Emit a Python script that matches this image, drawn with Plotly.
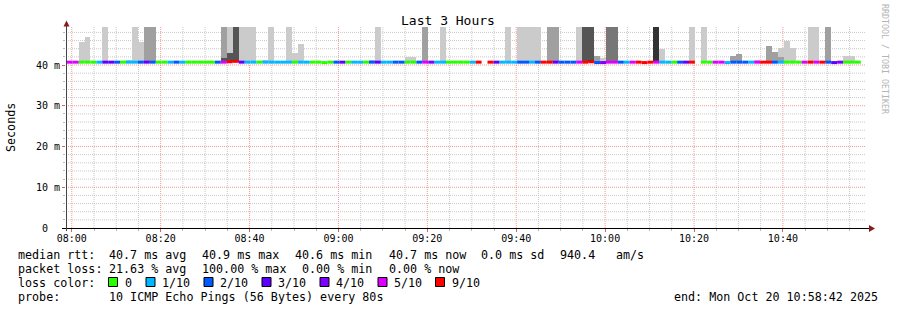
import plotly.graph_objects as go

# ---------------- data ----------------
# time axis: minutes after 08:00; RRD step = 80 s
first_step_min = -1.13
step_min = 80 / 60
x_tick_labels = ["08:00", "08:20", "08:40", "09:00", "09:20", "09:40", "10:00", "10:20", "10:40"]
x_tick_minutes = [0, 20, 40, 60, 80, 100, 120, 140, 160]
y_tick_values = [0, 10, 20, 30, 40]
y_tick_labels = ["0\u00a0\u00a0", "10 m", "20 m", "30 m", "40 m"]

# loss per step (lost pings out of 10), 10 = everything lost (no median)
loss = [5, 5, 0, 0, 0, 1, 3, 3, 2, 0, 1, 1, 2, 3, 2, 0, 0, 1, 2, 1,
        0, 0, 0, 0, 0, 2, 5, 9, 9, 3, 1, 1, 0, 1, 1, 1, 1, 1, 0, 1,
        1, 0, 0, 0, 0, 2, 3, 0, 1, 1, 0, 2, 3, 1, 1, 2, 2, 0, 0, 2,
        5, 4, 1, 1, 0, 0, 0, 0, 1, 9, 10, 9, 3, 1, 1, 1, 2, 2, 1, 2,
        9, 9, 3, 2, 2, 2, 5, 9, 9, 2, 4, 5, 5, 2, 1, 5, 9, 9, 9, 5,
        1, 1, 0, 2, 3, 9, 10, 0, 0, 5, 5, 1, 2, 2, 2, 1, 5, 9, 9, 2,
        1, 0, 0, 0, 5, 9, 5, 9, 2, 3, 4, 0, 0, 0]
# median rtt per step (ms)
median = [40.7] * len(loss)
median_exceptions = {27: 40.8, 28: 40.9, 43: 40.6, 88: 40.8, 89: 40.6, 90: 40.6,
                     97: 40.6, 111: 40.6, 129: 40.6}

# smoke (ping spread) per step: step index, low ms, high ms, shade
smoke_step = [2, 3, 6, 10, 11, 12, 13, 14, 26, 26, 27, 27, 28, 29, 30, 31, 33, 34, 37, 38,
              39, 51, 52, 57, 58, 60, 63, 74, 76, 77, 78, 79, 81, 82, 86, 87, 88, 88, 89, 90,
              91, 92, 99, 100, 105, 107, 112, 113, 116, 118, 119, 120, 120, 121, 122, 125, 126, 128, 131, 132]
smoke_lo = [40.8] * len(smoke_step)
smoke_hi = [45.6, 46.9, 60, 41.3, 60, 45.6, 60, 60, 60, 41.7, 60, 43.0, 60, 60, 60, 60, 41.3, 60, 60, 42.9,
            45.1, 41.3, 60, 42.0, 42.0, 60, 60, 60, 60, 60, 60, 60, 60, 60, 60, 60, 60, 41.3, 42.3, 41.8,
            60, 60, 60, 44.0, 60, 60, 42.3, 42.6, 41.3, 44.7, 43.2, 44.2, 42.0, 46.0, 44.2, 60, 60, 60, 42.1, 42.1]
smoke_shade = ["light", "light", "light", "light", "light", "light", "medium", "medium", "medium", "dark",
               "light", "dark", "dark", "light", "light", "light", "light", "light", "light", "light",
               "light", "light", "light", "light", "light", "medium", "light", "light", "light", "light",
               "light", "light", "medium", "medium", "light", "dark", "dark", "vdark", "medium", "light",
               "middark", "middark", "vdark", "light", "light", "light", "medium", "medium", "light", "medium",
               "medium", "light", "medium", "light", "light", "light", "light", "medium", "light", "light"]

loss_levels = [0, 1, 2, 3, 4, 5, 9]
loss_names = ["0", "1/10", "2/10", "3/10", "4/10", "5/10", "9/10"]
loss_colors = ["#26ff00", "#00b8ff", "#0059ff", "#5e00ff", "#7e00ff", "#dd00ff", "#ff0000"]
shade_colors = {"light": "#cbcbcb", "medium": "#a0a0a0", "middark": "#777777",
                "dark": "#555555", "vdark": "#333333"}

stats_lines = [
    [("median rtt:", 16), ("40.7 ms avg", 107), ("40.9 ms max", 200), ("40.6 ms min", 293),
     ("40.7 ms now", 386.5), ("0.0 ms sd", 479), ("940.4", 558), ("am/s", 614)],
    [("packet loss:", 16), ("21.63 % avg", 107), ("100.00 % max", 200), ("0.00 % min", 300),
     ("0.00 % now", 386.5)],
]
loss_label_x = [123, 160, 218, 276, 334, 392, 450]
loss_box_x = [108.5, 146, 204, 262, 320, 378, 435.5]
probe_text = "10 ICMP Echo Pings (56 Bytes) every 80s"
end_text = "end: Mon Oct 20 10:58:42 2025"

# ---------------- geometry ----------------
W, H = 897, 310
L, R, T, B = 66, 31, 27, 82
PW, PH = W - L - R, H - T - B
X_RANGE = [-1.3, 178.7]
Y_RANGE = [0, 49.33]
FONT = "DejaVu Sans Mono"


def px(x):
    return (x - L) / PW


def py(y):
    return (H - B - y) / PH


for k, v in median_exceptions.items():
    median[k] = v

fig = go.Figure()

# smoke, lightest first
for shade in ["light", "medium", "middark", "dark", "vdark"]:
    idx = [i for i, s in enumerate(smoke_shade) if s == shade]
    if not idx:
        continue
    fig.add_trace(go.Bar(
        x=[first_step_min + (smoke_step[i] + 0.5) * step_min for i in idx],
        y=[smoke_hi[i] - smoke_lo[i] for i in idx],
        base=[smoke_lo[i] for i in idx],
        width=[step_min] * len(idx),
        marker=dict(color=shade_colors[shade], line=dict(width=0)),
        showlegend=False, hoverinfo="skip"))

# median line coloured by loss
for lvl, col in zip(loss_levels, loss_colors):
    xs, ys = [], []
    for k, l in enumerate(loss):
        if l == 10:
            continue
        lv = 9 if l >= 6 else l
        if lv != lvl:
            continue
        s = first_step_min + k * step_min
        xs += [s, s + step_min, None]
        ys += [median[k], median[k], None]
    if xs:
        fig.add_trace(go.Scatter(x=xs, y=ys, mode="lines",
                                 line=dict(color=col, width=3),
                                 showlegend=False, hoverinfo="skip"))

shapes = []
GRID_MAJOR = "rgba(235,120,120,0.75)"
GRID_MINOR = "rgba(195,195,195,0.9)"
for m in range(0, 180, 5):
    major = m % 20 == 0
    shapes.append(dict(type="line", xref="x", yref="paper", x0=m, x1=m, y0=0, y1=1,
                       layer="below",
                       line=dict(color=GRID_MAJOR if major else GRID_MINOR, width=1, dash="1px,1px")))
for v in range(2, 50, 2):
    major = v % 10 == 0
    shapes.append(dict(type="line", xref="paper", yref="y", x0=0, x1=1, y0=v, y1=v,
                       layer="below",
                       line=dict(color=GRID_MAJOR if major else GRID_MINOR, width=1, dash="1px,1px")))
# axes with arrows
shapes.append(dict(type="line", xref="paper", yref="paper", x0=px(62), x1=px(870),
                   y0=py(228.5), y1=py(228.5), layer="above", line=dict(color="#000000", width=1)))
shapes.append(dict(type="line", xref="paper", yref="paper", x0=px(66.5), x1=px(66.5),
                   y0=py(231), y1=py(25), layer="above", line=dict(color="#444444", width=1)))
shapes.append(dict(type="path", xref="paper", yref="paper", layer="above",
                   path=f"M {px(63.5)} {py(26.5)} L {px(69.5)} {py(26.5)} L {px(66.5)} {py(20.5)} Z",
                   fillcolor="#8b1a1a", line=dict(width=0)))
shapes.append(dict(type="path", xref="paper", yref="paper", layer="above",
                   path=f"M {px(869)} {py(225)} L {px(869)} {py(232)} L {px(875)} {py(228.5)} Z",
                   fillcolor="#8b1a1a", line=dict(width=0)))

annotations = []


def text(x, y, s, size=11.7, color="#000000", xanchor="left", angle=0):
    annotations.append(dict(xref="paper", yref="paper", x=px(x), y=py(y), text=s,
                            showarrow=False, xanchor=xanchor, yanchor="middle",
                            textangle=angle,
                            font=dict(family=FONT, size=size, color=color)))


text(448, 20, "Last 3 Hours", size=13, xanchor="center")
text(11, 127, "Seconds", size=11.7, xanchor="center", angle=-90)
text(885, 59, "RRDTOOL / TOBI OETIKER", size=8.3, color="#b4b4b4", xanchor="center", angle=90)

line_y = [254.5, 268.5, 282.5, 296.5]
for row, items in enumerate(stats_lines):
    for s, x in items:
        text(x, line_y[row], s)
text(16, line_y[2], "loss color:")
for bx, tx, name, col in zip(loss_box_x, loss_label_x, loss_names, loss_colors):
    shapes.append(dict(type="rect", xref="paper", yref="paper",
                       x0=px(bx), x1=px(bx + 9), y0=py(286.5), y1=py(277.5),
                       fillcolor=col, line=dict(color="#000000", width=1), layer="above"))
    text(tx, line_y[2], name)
text(16, line_y[3], "probe:")
text(107, line_y[3], probe_text)
text(880, line_y[3], end_text, xanchor="right")

fig.update_layout(
    width=W, height=H, margin=dict(l=L, r=R, t=T, b=B),
    paper_bgcolor="#ffffff", plot_bgcolor="#ffffff",
    barmode="overlay", bargap=0, showlegend=False,
    shapes=shapes, annotations=annotations,
    font=dict(family=FONT, color="#000000"),
    xaxis=dict(range=X_RANGE, tickmode="array", tickvals=x_tick_minutes, ticktext=x_tick_labels,
               showgrid=False, zeroline=False, showline=False,
               ticks="outside", ticklen=3, tickcolor="#e06060", tickwidth=1,
               ticklabelstandoff=-2,
               minor=dict(dtick=5, ticks="outside", ticklen=2, tickcolor="#bbbbbb", showgrid=False),
               tickfont=dict(family=FONT, size=10, color="#000000"), fixedrange=True),
    yaxis=dict(range=Y_RANGE, tickmode="array", tickvals=y_tick_values, ticktext=y_tick_labels,
               showgrid=False, zeroline=False, showline=False,
               ticks="outside", ticklen=3, tickcolor="#e06060", tickwidth=1,
               minor=dict(dtick=2, ticks="outside", ticklen=2, tickcolor="#bbbbbb", showgrid=False),
               tickfont=dict(family=FONT, size=10, color="#000000"), fixedrange=True),
)

fig.write_html("out.html")
